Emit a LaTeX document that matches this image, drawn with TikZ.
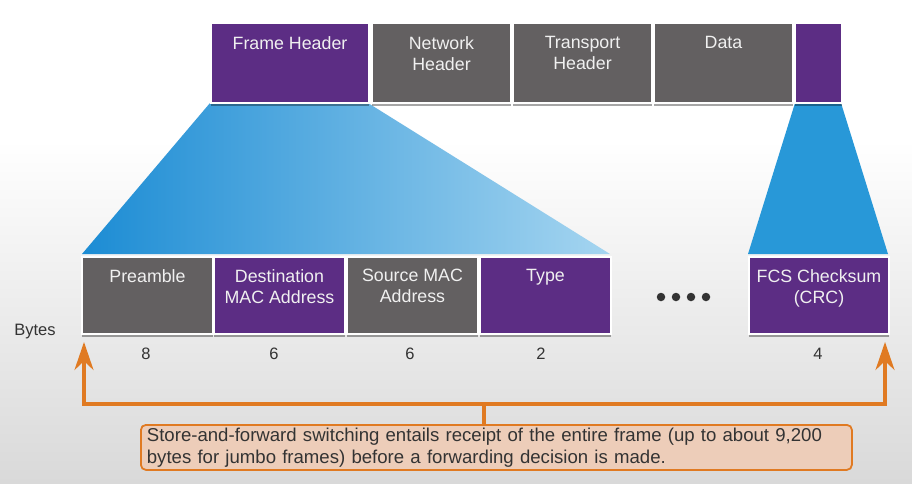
\documentclass[tikz,border=0pt]{standalone}
\usepackage{fontspec}
\setmainfont{Liberation Sans}
\usetikzlibrary{arrows.meta,shadows,positioning}
\definecolor{purp}{HTML}{5C2D84}
\definecolor{segray}{HTML}{636061}
\definecolor{oran}{HTML}{E07A22}
\definecolor{notefill}{HTML}{EDCDB9}
\definecolor{txt}{HTML}{333333}
\definecolor{blueA}{HTML}{1C8CD4}
\definecolor{blueB}{HTML}{A5D5F0}
\definecolor{blueC}{HTML}{2898D8}
\definecolor{bgbot}{HTML}{D9D9D9}
\begin{document}
\begin{tikzpicture}[x=1pt,y=-1pt,
  seg/.style={draw=white, line width=2pt, inner sep=0pt, anchor=north west,
    drop shadow={shadow xshift=0pt, shadow yshift=-3pt, fill=black, opacity=0.35}},
  segtxt/.style={text=white!94!black, font=\fontsize{17.8}{21}\selectfont, align=center, inner sep=0pt},
  num/.style={text=txt, font=\fontsize{16.5}{20}\selectfont, inner sep=0pt},
  oarr/.style={draw=oran, line width=3.5pt, -{Stealth[length=28pt,width=19pt,inset=9pt]}},
  oline/.style={draw=oran, line width=3.5pt},
  note/.style={draw=oran, line width=1.8pt, fill=notefill, rounded corners=5pt,
    text=txt, font=\fontsize{18.6}{22}\selectfont, align=left, text width=699pt,
    inner xsep=6pt, inner ysep=2pt, minimum height=45pt, anchor=north west},
  dot/.style={circle, fill=txt, inner sep=0pt, minimum size=8.5pt}
]
\useasboundingbox (0,0) rectangle (912,483);
% background
\fill[white] (0,0) rectangle (912,140);
\shade[top color=white, bottom color=bgbot] (0,140) rectangle (912,483);

% blue trapezoids
\shade[left color=blueA, right color=blueB] (210,103) -- (368,103) -- (610,254) -- (82,254) -- cycle;
\fill[blueC] (795,103) -- (841,103) -- (888,254) -- (748,254) -- cycle;

% top row
\node[seg, fill=purp, minimum width=158pt, minimum height=80pt] (fh) at (210,22) {};
\node[seg, fill=segray, minimum width=139pt, minimum height=80pt] (nh) at (371,22) {};
\node[seg, fill=segray, minimum width=139pt, minimum height=80pt] (th) at (512,22) {};
\node[seg, fill=segray, minimum width=139pt, minimum height=80pt] (dh) at (653,22) {};
\node[seg, fill=purp, minimum width=47pt, minimum height=80pt] (ft) at (794,22) {};
\node[segtxt, below=14pt of fh.north] (fhT) {Frame Header};
\node[segtxt, below=14pt of nh.north] (nhT) {Network\\Header};
\node[segtxt, below=14pt of th.north] (thT) {Transport\\Header};
\node[segtxt, below=14pt of dh.north] (dhT) {Data};

% bottom row
\node[seg, fill=segray, minimum width=131pt, minimum height=77pt] (pre) at (81,256) {};
\node[seg, fill=purp, minimum width=131pt, minimum height=77pt] (dst) at (213,256) {};
\node[seg, fill=segray, minimum width=131pt, minimum height=77pt] (src) at (346,256) {};
\node[seg, fill=purp, minimum width=131pt, minimum height=77pt] (typ) at (479,256) {};
\node[seg, fill=purp, minimum width=140pt, minimum height=77pt] (fcs) at (748,256) {};
\node[segtxt, below=13pt of pre.north] (preT) {Preamble};
\node[segtxt, below=13pt of dst.north] (dstT) {Destination\\MAC Address};
\node[segtxt, below=13pt of src.north] (srcT) {Source MAC\\Address};
\node[segtxt, below=13pt of typ.north] (typT) {Type};
\node[segtxt, below=13pt of fcs.north] (fcsT) {FCS Checksum\\(CRC)};

% dots
\node[dot] (d1) at (661,297) {};
\node[dot] (d2) at (676,297) {};
\node[dot] (d3) at (691,297) {};
\node[dot] (d4) at (706,297) {};

% bytes
\node[num] (bytes) at (35,332) {Bytes};
\node[num] (n1) at (146,354) {8};
\node[num] (n2) at (274,354) {6};
\node[num] (n3) at (410,354) {6};
\node[num] (n4) at (541,354) {2};
\node[num] (n5) at (818,354) {4};

% note and arrows
\node[note] (note) at (140,424) {Store-and-forward switching entails receipt of the entire frame (up to about 9,200\\bytes for jumbo frames) before a forwarding decision is made.};
\coordinate (bar) at (484,404);
\coordinate (tipL) at (84,342);
\coordinate (tipR) at (885,342);
\draw[oline] (note.north -| bar) -- (bar);
\draw[oarr] (bar) -| (tipL);
\draw[oarr] (bar) -| (tipR);
\end{tikzpicture}
\end{document}
